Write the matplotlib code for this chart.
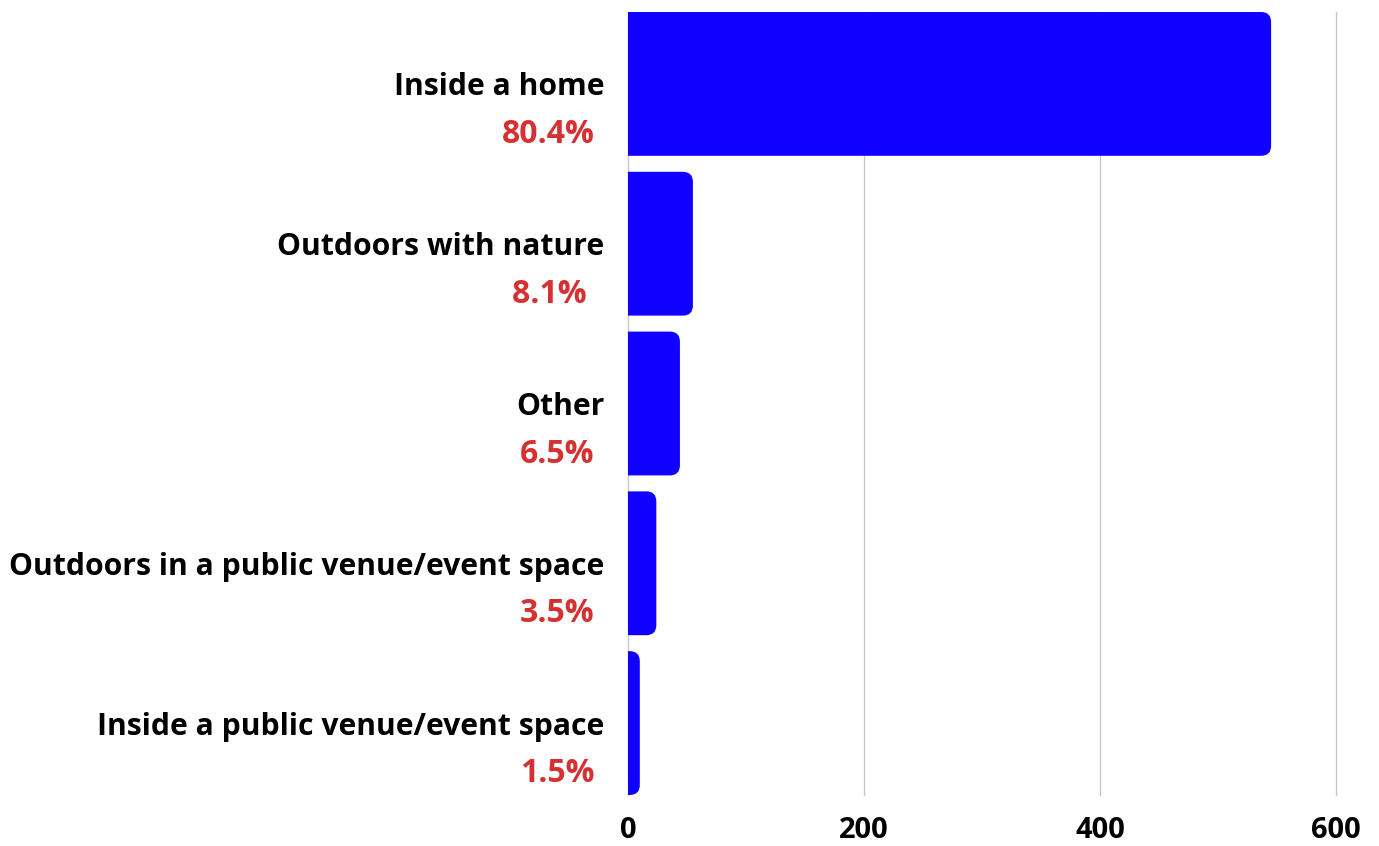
import matplotlib
matplotlib.use('Agg')
import matplotlib.pyplot as plt
from matplotlib.patches import FancyBboxPatch
import matplotlib.transforms as mtransforms

plt.rcParams['font.family'] = ['Open Sans', 'DejaVu Sans']

categories = ['Inside a home', 'Outdoors with nature', 'Other',
              'Outdoors in a public venue/event space',
              'Inside a public venue/event space']
counts = [545, 55, 44, 24, 10]
percents = ['80.4%', '8.1% ', '6.5%', '3.5%', '1.5%']
xticks = [0, 200, 400, 600]

bar_color = '#1000ff'
pct_color = '#d63031'

fig = plt.figure(figsize=(13.79, 8.46), dpi=100)
ax = fig.add_axes([628 / 1379, 1 - 795 / 846, (1336 - 628) / 1379, (795 - 12) / 846])

ypos = list(range(len(categories)))
bars = ax.barh(ypos, counts, height=0.9, color=bar_color)
ax.set_xlim(0, 600)
ax.set_ylim(len(categories) - 0.55, -0.45)

# swap the plain bars for ones with rounded right corners
fig.canvas.draw()
bb = ax.get_window_extent()
px_x = 600 / bb.width
px_y = (len(categories) - 0.1) / bb.height
r = 10  # corner radius in px
for b in bars:
    x0, y0 = b.get_x(), b.get_y()
    w, h = b.get_width(), b.get_height()
    patch = FancyBboxPatch((x0 - r * px_x * 2, y0), w + r * px_x * 2, h,
                           boxstyle='round,pad=0,rounding_size=%f' % (r * px_x),
                           mutation_aspect=px_y / px_x,
                           facecolor=bar_color, edgecolor='none', zorder=3)
    ax.add_patch(patch)
    b.remove()

ax.set_xticks(xticks)
ax.set_xticklabels([str(t) for t in xticks], fontsize=21, fontweight='bold')
ax.set_yticks(ypos)
ax.set_yticklabels(categories, fontsize=21.7, fontweight='bold')
ax.tick_params(axis='both', length=0)
ax.tick_params(axis='y', pad=17)
ax.tick_params(axis='x', pad=15)

ax.grid(axis='x', color='#c8c8c8', linewidth=1)
for gl in ax.get_xgridlines():
    gl.set_clip_on(False)
ax.set_axisbelow(True)
for s in ax.spines.values():
    s.set_visible(False)

trans = mtransforms.blended_transform_factory(ax.transAxes, ax.transData)
for i, p in enumerate(percents):
    ax.annotate(p, xy=(0, i), xycoords=trans, xytext=(-24, -36.5),
                textcoords='offset points', ha='right', va='center',
                fontsize=23, fontweight='bold', color=pct_color)

fig.savefig('out.png', dpi=100)
